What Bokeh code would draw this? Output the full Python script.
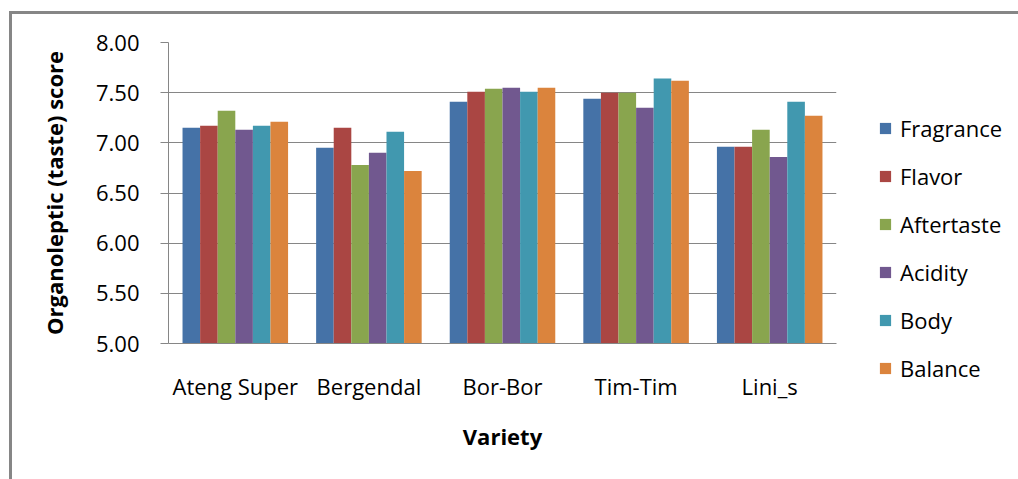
from bokeh.plotting import figure
from bokeh.models import (ColumnDataSource, FactorRange, Range1d, FixedTicker,
                          NumeralTickFormatter, Legend, LegendItem)
from bokeh.transform import dodge
from bokeh.embed import file_html
from bokeh.resources import INLINE

varieties = ["Ateng Super", "Bergendal", "Bor-Bor", "Tim-Tim", "Lini_s"]
fragrance = [7.15, 6.95, 7.41, 7.44, 6.96]
flavor = [7.17, 7.15, 7.51, 7.50, 6.96]
aftertaste = [7.32, 6.78, 7.54, 7.50, 7.13]
acidity = [7.13, 6.90, 7.55, 7.35, 6.86]
body = [7.17, 7.11, 7.51, 7.64, 7.41]
balance = [7.21, 6.72, 7.55, 7.62, 7.27]
series_names = ["Fragrance", "Flavor", "Aftertaste", "Acidity", "Body", "Balance"]
series_values = [fragrance, flavor, aftertaste, acidity, body, balance]
colors = ["#4572A7", "#AA4643", "#89A54E", "#71588F", "#4198AF", "#DB843D"]
y_ticks = [5.0, 5.5, 6.0, 6.5, 7.0, 7.5, 8.0]

FONT = "Open Sans"
GRAY = "#868686"

p = figure(x_range=FactorRange(*varieties), y_range=Range1d(5.0, 8.0),
           frame_width=668, frame_height=301, output_backend="svg", toolbar_location=None,
           min_border_left=168, min_border_right=0, min_border_top=42,
           min_border_bottom=136)
p.outline_line_color = None
p.background_fill_color = "white"
p.border_fill_alpha = 0
p.styles = {"box-shadow": "inset 9px 11px 0 0 white, inset 12px 14px 0 0 #868686",
            "background-color": "white"}

group_w = 0.79
bw = group_w / len(series_names)
items = []
for i, (name, vals, col) in enumerate(zip(series_names, series_values, colors)):
    src = ColumnDataSource(dict(x=varieties, top=vals))
    off = (i - (len(series_names) - 1) / 2) * bw
    r = p.vbar(x=dodge("x", off, range=p.x_range), top="top", bottom=5.0,
               width=bw, source=src, fill_color=col, line_color=None)
    items.append(LegendItem(label=name, renderers=[r]))

# axes
p.xgrid.grid_line_color = None
p.ygrid.grid_line_color = GRAY
p.ygrid.grid_line_width = 1
p.yaxis.ticker = FixedTicker(ticks=y_ticks)
p.yaxis.formatter = NumeralTickFormatter(format="0.00")
p.yaxis.minor_tick_line_color = None
p.yaxis.major_tick_out = 8
p.yaxis.major_tick_in = 0
p.yaxis.major_tick_line_color = GRAY
p.yaxis.axis_line_color = GRAY
p.yaxis.major_label_standoff = 21
p.yaxis.axis_label = "Organoleptic (taste) score"
p.yaxis.axis_label_standoff = 24

p.xaxis.major_tick_line_color = None
p.xaxis.minor_tick_line_color = None
p.xaxis.axis_line_color = GRAY
p.xaxis.major_label_standoff = 21
p.xaxis.axis_label = "Variety"
p.xaxis.axis_label_standoff = 17

for ax in (p.xaxis[0], p.yaxis[0]):
    ax.major_label_text_font = FONT
    ax.major_label_text_font_size = "22px"
    ax.major_label_text_color = "black"
    ax.axis_label_text_font = FONT
    ax.axis_label_text_font_size = "22px"
    ax.axis_label_text_font_style = "bold"
    ax.axis_label_text_color = "black"

legend = Legend(items=items, location=(42, -40), orientation="vertical",
                padding=0, margin=0, spacing=18, glyph_width=14, glyph_height=14,
                label_standoff=8, label_text_font=FONT, label_text_font_size="22px",
                label_text_color="black", border_line_color=None,
                background_fill_alpha=0)
p.add_layout(legend, "right")

open("out.html", "w").write(file_html(p, INLINE))
